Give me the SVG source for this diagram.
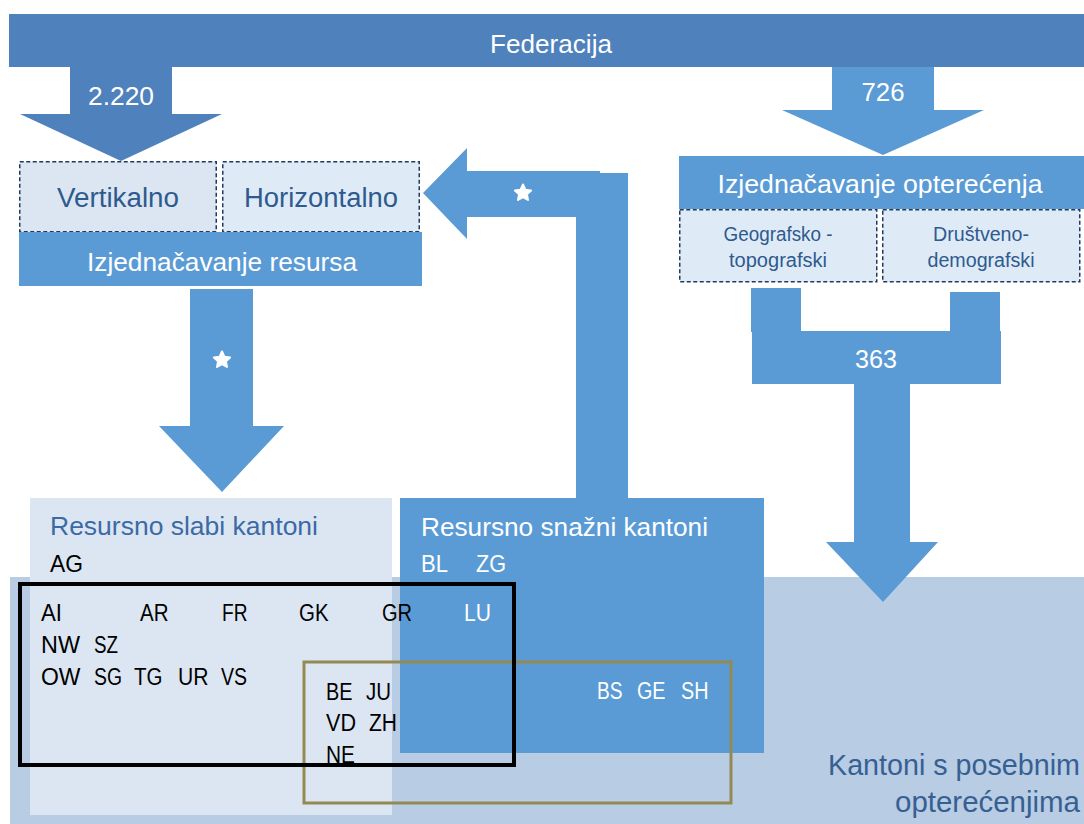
<svg xmlns="http://www.w3.org/2000/svg" width="1084" height="824" viewBox="0 0 1084 824">
<defs>
<style>
text{font-family:"Liberation Sans",Arial,sans-serif}
.w{fill:#ffffff}
.dk{fill:#000000}
.blue{fill:#2f5a8e}
.dash{stroke:#1f3a5f;stroke-width:1.5;stroke-dasharray:4 2.5}
.c{text-anchor:middle}
.code{font-size:23px}
.big{font-size:24.5px}
</style>
<path id="star" d="M0,-8.5 L2.4,-3.3 L8.1,-2.6 L3.9,1.3 L5,6.9 L0,4.1 L-5,6.9 L-3.9,1.3 L-8.1,-2.6 L-2.4,-3.3 Z" fill="#ffffff" stroke="#ffffff" stroke-width="2" stroke-linejoin="round"/>
</defs>
<rect width="1084" height="824" fill="#ffffff"/>

<g id="kantoni-posebni">
<rect x="10" y="577" width="1074" height="247" fill="#b8cce4"/>
<text x="1080" y="775" font-size="29" fill="#366092" text-anchor="end" textLength="252" lengthAdjust="spacingAndGlyphs">Kantoni s posebnim</text>
<text x="1080" y="812" font-size="29" fill="#366092" text-anchor="end" textLength="185" lengthAdjust="spacingAndGlyphs">opterećenjima</text>
</g>

<g id="resursno-slabi">
<rect x="30" y="498" width="362" height="317" fill="#dce6f2"/>
<text x="50" y="535" font-size="26" fill="#3b6aa5" textLength="268" lengthAdjust="spacingAndGlyphs">Resursno slabi kantoni</text>
<text x="50" y="572" class="big dk" textLength="33" lengthAdjust="spacingAndGlyphs">AG</text>
</g>

<g id="connectors">
<path d="M70,67 H172 V114 H222 L121,161 L20,114 H70 Z" fill="#4f81bd"/>
<text x="121" y="105" font-size="26" class="w c" textLength="66" lengthAdjust="spacingAndGlyphs">2.220</text>
<path d="M832,63 H934 V110 H984 L883,155 L782,110 H832 Z" fill="#5b9bd5"/>
<text x="883" y="101" font-size="26" class="w c" textLength="43" lengthAdjust="spacingAndGlyphs">726</text>
<path d="M190,289 H253 V426 H284 L222,492 L159,426 H190 Z" fill="#5b9bd5"/>
<use href="#star" x="222" y="360"/>
<path d="M423,193 L467,148 L467,171 L600,171 L600,173 L628,173 L628,510 L576,510 L576,217 L467,217 L467,239 Z" fill="#5b9bd5"/>
<use href="#star" x="523" y="193"/>
<rect x="751" y="288" width="50" height="44" fill="#5b9bd5"/>
<rect x="950" y="292" width="50" height="40" fill="#5b9bd5"/>
<rect x="752" y="331" width="249" height="53" fill="#5b9bd5"/>
<text x="876" y="368" font-size="26" class="w c" textLength="42" lengthAdjust="spacingAndGlyphs">363</text>
<path d="M854,383 H910 V542 H938 L883,602 L826,542 H854 Z" fill="#5b9bd5"/>
</g>

<g id="resursno-snazni">
<rect x="400" y="498" width="364" height="255" fill="#5b9bd5"/>
<text x="421" y="536" font-size="26" class="w" textLength="287" lengthAdjust="spacingAndGlyphs">Resursno snažni kantoni</text>
<text x="421" y="572" class="big w" textLength="27" lengthAdjust="spacingAndGlyphs">BL</text>
<text x="476" y="572" class="big w" textLength="30" lengthAdjust="spacingAndGlyphs">ZG</text>
<text x="597" y="699" class="code w" textLength="25.5" lengthAdjust="spacingAndGlyphs">BS</text>
<text x="637" y="699" class="code w" textLength="28.5" lengthAdjust="spacingAndGlyphs">GE</text>
<text x="681" y="699" class="code w" textLength="27.5" lengthAdjust="spacingAndGlyphs">SH</text>
</g>

<g id="federacija">
<rect x="9" y="14" width="1075" height="53" fill="#4f81bd"/>
<text x="551" y="53" font-size="26" class="w c" textLength="122" lengthAdjust="spacingAndGlyphs">Federacija</text>
</g>

<g id="vertikalno">
<rect x="19.75" y="161.75" width="196.5" height="70" fill="#dce6f2" class="dash"/>
<text x="118" y="207" font-size="27" class="blue c" textLength="122" lengthAdjust="spacingAndGlyphs">Vertikalno</text>
</g>
<g id="horizontalno">
<rect x="222.75" y="161.75" width="196.5" height="70" fill="#deebf7" class="dash"/>
<text x="321" y="207" font-size="27" class="blue c" textLength="154" lengthAdjust="spacingAndGlyphs">Horizontalno</text>
</g>
<g id="izjednacavanje-resursa">
<rect x="19" y="232" width="403" height="54" fill="#5b9bd5"/>
<text x="222" y="271" font-size="26" class="w c" textLength="270" lengthAdjust="spacingAndGlyphs">Izjednačavanje resursa</text>
</g>

<g id="izjednacavanje-opterecenja">
<rect x="679" y="156" width="405" height="53" fill="#5b9bd5"/>
<text x="880" y="193" font-size="26" class="w c" textLength="325" lengthAdjust="spacingAndGlyphs">Izjednačavanje opterećenja</text>
</g>
<g id="geografsko">
<rect x="679.75" y="209.75" width="197" height="72" fill="#deebf7" class="dash"/>
<text x="778" y="241" font-size="19.5" class="blue c" textLength="109" lengthAdjust="spacingAndGlyphs">Geografsko -</text>
<text x="778" y="267" font-size="19.5" class="blue c" textLength="98" lengthAdjust="spacingAndGlyphs">topografski</text>
</g>
<g id="drustveno">
<rect x="882.75" y="209.75" width="197" height="72" fill="#deebf7" class="dash"/>
<text x="981" y="241" font-size="19.5" class="blue c" textLength="96" lengthAdjust="spacingAndGlyphs">Društveno-</text>
<text x="981" y="267" font-size="19.5" class="blue c" textLength="107" lengthAdjust="spacingAndGlyphs">demografski</text>
</g>

<g id="kodovi">
<text x="41" y="621" class="code dk" textLength="21" lengthAdjust="spacingAndGlyphs">AI</text>
<text x="140" y="621" class="code dk" textLength="28.5" lengthAdjust="spacingAndGlyphs">AR</text>
<text x="222" y="621" class="code dk" textLength="25.5" lengthAdjust="spacingAndGlyphs">FR</text>
<text x="299" y="621" class="code dk" textLength="29.5" lengthAdjust="spacingAndGlyphs">GK</text>
<text x="382" y="621" class="code dk" textLength="30" lengthAdjust="spacingAndGlyphs">GR</text>
<text x="464" y="621" class="code w" textLength="27" lengthAdjust="spacingAndGlyphs">LU</text>
<text x="41" y="653" class="code dk" textLength="39" lengthAdjust="spacingAndGlyphs">NW</text>
<text x="94" y="653" class="code dk" textLength="24" lengthAdjust="spacingAndGlyphs">SZ</text>
<text x="41" y="685" class="code dk" textLength="39.5" lengthAdjust="spacingAndGlyphs">OW</text>
<text x="94" y="685" class="code dk" textLength="28" lengthAdjust="spacingAndGlyphs">SG</text>
<text x="134" y="685" class="code dk" textLength="28.5" lengthAdjust="spacingAndGlyphs">TG</text>
<text x="178" y="685" class="code dk" textLength="30.5" lengthAdjust="spacingAndGlyphs">UR</text>
<text x="221" y="685" class="code dk" textLength="26" lengthAdjust="spacingAndGlyphs">VS</text>
<text x="326" y="700" class="code dk" textLength="26.5" lengthAdjust="spacingAndGlyphs">BE</text>
<text x="366" y="700" class="code dk" textLength="25" lengthAdjust="spacingAndGlyphs">JU</text>
<text x="326" y="731" class="code dk" textLength="30" lengthAdjust="spacingAndGlyphs">VD</text>
<text x="369" y="731" class="code dk" textLength="28" lengthAdjust="spacingAndGlyphs">ZH</text>
<text x="326" y="763" class="code dk" textLength="29" lengthAdjust="spacingAndGlyphs">NE</text>
</g>

<g id="grupa-posebni">
<rect x="304" y="662" width="427" height="141" fill="none" stroke="#938953" stroke-width="3"/>
</g>
<g id="grupa-slabi">
<rect x="20" y="584" width="494" height="181" fill="none" stroke="#000000" stroke-width="4"/>
</g>
</svg>
